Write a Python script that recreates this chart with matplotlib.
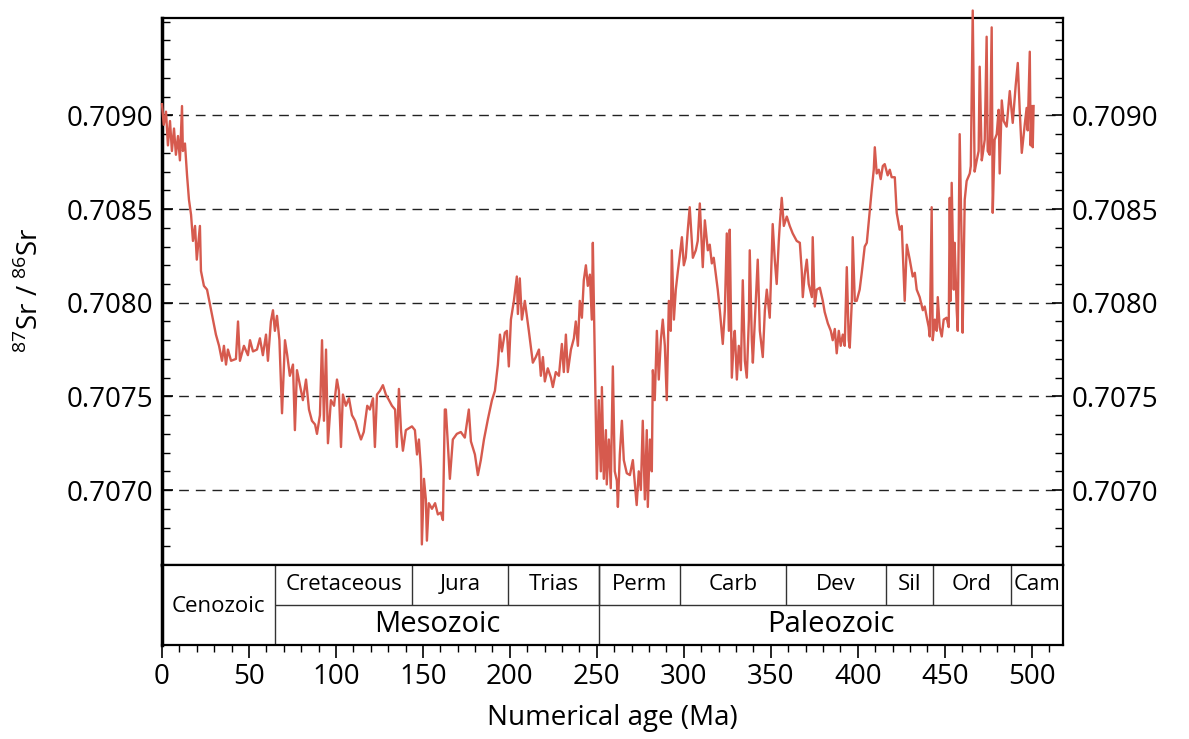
import matplotlib.pyplot as plt
from matplotlib.ticker import MultipleLocator, FixedLocator, FormatStrFormatter

plt.rcParams['font.family'] = ['Open Sans', 'DejaVu Sans']
plt.rcParams['mathtext.fontset'] = 'custom'
plt.rcParams['mathtext.rm'] = 'Open Sans'

# Sr isotope curve (age in Ma, 87Sr/86Sr)
ages = [0, 1, 2.3, 3.4, 4.6, 5.7, 6.9, 8, 9.2, 10.3, 11.5, 12, 13.2, 14.4, 15.5,
        16.7, 17.8, 19, 20, 21.8, 22.4, 24.1, 25.9, 27.6, 29.3, 31, 32.8, 34.5,
        35.6, 36.8, 37.9, 39.7, 42.5, 43.7, 44.8, 47.1, 49.4, 50.6, 52.3, 54.6,
        56.3, 58, 59.8, 60.9, 62.6, 63.8, 64.9, 66.1,
        67.5, 69, 70.7, 72, 73.5, 75.3, 76.4, 77.6, 79.3, 81, 82.8, 84.5, 86.2,
        88, 89.1, 90.8, 92, 93.1, 94.3, 95.4, 97.1, 98.9, 100.6, 101.7, 102.9,
        104, 105.7, 107.5, 109.2, 111, 112.6, 114.4, 116, 118, 119.5, 121.3,
        122.4, 123.6, 125.3, 127, 128.7, 130.5, 132.2, 134, 135, 136.2, 137.4,
        138.5, 140.2, 142, 143.7, 145.4, 146.6, 147.7, 148.9, 149.4, 150.6,
        151.7, 152.3, 153.4, 155.2, 157, 158.6, 160.3, 161.5, 162.6,
        163.2, 165.5, 167.2, 169.5, 171.8, 174.1, 176.4, 177.6, 179.9, 181.6,
        183.3, 185.1, 187.4, 189.7, 191.4, 193.1, 194.3, 195.4, 197.1, 198.3,
        199.4, 200.6, 202.3, 204, 204.6, 205.7, 206.9, 208.6, 210.9, 213.2,
        214.9, 216.7, 217.8, 219, 220.1, 221.8, 223.6, 224.7, 226.4, 228.2,
        229.9, 231, 232.2, 233.3, 235.1, 236.8, 237.9, 239.1, 240.2, 241.4,
        242.5, 243.7, 244.8, 246, 247.1, 247.7, 248.9, 250, 251.1, 252.3,
        252.9, 254, 255.2, 255.7, 256.9, 258, 259.2, 260.3, 261.5, 262.1,
        263.2, 264.4, 265.5, 267.2, 269, 270.7, 271.8, 272.9, 274.1, 275.3,
        276.4, 277.6, 278.7, 279.3, 280.5, 281.6, 282.2, 283.3, 284.5, 285.6,
        286.8, 287.9, 289.1, 290.2, 291.4, 292.5, 293.1, 294.3, 295.4, 296.6,
        297.7, 298.9, 300, 301.1,
        302.3, 303.4, 305.2, 306.9, 308, 309.2, 310.3, 310.9, 312.1, 313.8,
        314.9, 316.1, 317.2, 318.4, 319.5, 320.7, 322.4, 323.6, 324.7, 325.9,
        326.4, 327.6, 328.7, 329.3, 330.5, 331.6, 332.8, 333.9, 335.1, 336.2,
        337.4, 337.9, 339.1, 339.7, 341.4, 342.5, 343.7, 345.4, 346.6, 347.7,
        349.4, 351.1, 352.3, 353.4, 354.6, 355.2, 356.3, 357.5, 359.2, 360.9,
        362.6, 364.9, 366.7, 367.8, 368.4, 369.5, 370.7, 371.8, 373.6, 374.1,
        375.3, 376.4, 378.2, 379.9, 381, 382.8, 384.5, 385.6, 386.8, 387.9,
        389.1, 390.2, 391.4, 392.5, 393.7, 394.8, 395.4, 396.6, 397.1, 398.3,
        399.4, 401.1, 402.3, 404, 405.2, 406.9, 408, 409.2, 409.8, 410.9,
        412.1, 413.2, 414.4, 415.5, 417.2, 418.4, 419.5, 421.3, 422.4, 424.1,
        425.3, 427, 428.2, 429.9, 431.6, 432.8, 433.9, 435.6, 437.4, 438.5,
        439.7, 440.8, 441.4, 442.5, 443.1, 444.3, 445.4, 446, 447.1, 448.3,
        449.4, 451.1, 452.3, 452.9, 453.4, 454, 455.2, 455.7, 456.9, 457.5,
        458.6, 459.8, 460.3, 461.5, 462.6, 464.4, 465, 466.1, 467.2, 468.4,
        469.5, 470.1, 471.3, 471.8, 473, 474.1, 474.7, 475.9, 477, 477.6,
        478.7, 479.9, 481, 481.6, 482.8, 483.9, 485.6, 487.4, 489.1, 490.8,
        492, 493.1, 494.3, 496, 497.1, 497.7, 498.9, 499.4, 500, 500.6, 501.1]

sr = [0.70906, 0.70895, 0.70902, 0.70884, 0.70897, 0.70881, 0.70893, 0.70879,
      0.70889, 0.70876, 0.70905, 0.70881, 0.70885, 0.70868, 0.70855, 0.70847,
      0.70833, 0.70841, 0.70823, 0.70841, 0.70817, 0.70809, 0.70807, 0.70799,
      0.70791, 0.70783, 0.70777, 0.70769, 0.70777, 0.70767, 0.70775, 0.70769,
      0.70770, 0.70790, 0.70769, 0.70777, 0.70772, 0.70780, 0.70774, 0.70775,
      0.70781, 0.70772, 0.70783, 0.70769, 0.70790, 0.70796, 0.70785, 0.70793,
      0.70780, 0.70741, 0.70780, 0.70772, 0.70761, 0.70767, 0.70732, 0.70764,
      0.70756, 0.70748, 0.70759, 0.70743, 0.70737, 0.70735, 0.70730, 0.70740,
      0.70780, 0.70737, 0.70775, 0.70725, 0.70748, 0.70745, 0.70759, 0.70753,
      0.70723, 0.70751, 0.70745, 0.70749, 0.70740, 0.70737, 0.70732, 0.70727,
      0.70731, 0.70745, 0.70743, 0.70749, 0.70723, 0.70751, 0.70753, 0.70756,
      0.70751, 0.70748, 0.70745, 0.70743, 0.70723, 0.70754, 0.70732, 0.70721,
      0.70732, 0.70733, 0.70734, 0.70732, 0.70719, 0.70727, 0.70711, 0.70671,
      0.70706, 0.70695, 0.70673, 0.70693, 0.70690, 0.70693, 0.70687, 0.70688,
      0.70684, 0.70743,
      0.70743, 0.70706, 0.70727, 0.70730, 0.70731, 0.70728, 0.70743, 0.70726,
      0.70719, 0.70708, 0.70716, 0.70727, 0.70738, 0.70748, 0.70753, 0.70767,
      0.70783, 0.70774, 0.70784, 0.70785, 0.70766, 0.70791, 0.70801, 0.70814,
      0.70794, 0.70813, 0.70791, 0.70801, 0.70785, 0.70768, 0.70771, 0.70775,
      0.70761, 0.70771, 0.70758, 0.70765, 0.70760, 0.70755, 0.70763, 0.70761,
      0.70778, 0.70763, 0.70783, 0.70763, 0.70775, 0.70781, 0.70790, 0.70777,
      0.70801, 0.70792, 0.70812, 0.70820, 0.70809, 0.70815, 0.70791, 0.70832,
      0.70767, 0.70706, 0.70748, 0.70710, 0.70755, 0.70706, 0.70732, 0.70703,
      0.70727, 0.70701, 0.70766, 0.70710, 0.70705, 0.70691, 0.70719, 0.70737,
      0.70716, 0.70709, 0.70708, 0.70716, 0.70704, 0.70692, 0.70710, 0.70700,
      0.70737, 0.70695, 0.70732, 0.70691, 0.70727, 0.70710, 0.70764, 0.70748,
      0.70785, 0.70759, 0.70780, 0.70791, 0.70777, 0.70748, 0.70801, 0.70785,
      0.70828, 0.70791, 0.70807, 0.70817, 0.70825, 0.70835, 0.70820, 0.70824,
      0.70839, 0.70851, 0.70824, 0.70828, 0.70833, 0.70853, 0.70831, 0.70819,
      0.70844, 0.70828, 0.70831, 0.70821, 0.70824, 0.70815, 0.70807, 0.70796,
      0.70778, 0.70796, 0.70837, 0.70785, 0.70839, 0.70760, 0.70780, 0.70785,
      0.70759, 0.70777, 0.70764, 0.70812, 0.70769, 0.70760, 0.70791, 0.70828,
      0.70780, 0.70768, 0.70801, 0.70823, 0.70785, 0.70771, 0.70796, 0.70807,
      0.70792, 0.70842, 0.70823, 0.70810, 0.70833, 0.70842, 0.70856, 0.70841,
      0.70846, 0.70841, 0.70837, 0.70833, 0.70832, 0.70817, 0.70803, 0.70815,
      0.70823, 0.70810, 0.70803, 0.70835, 0.70798, 0.70807, 0.70808, 0.70801,
      0.70795, 0.70789, 0.70785, 0.70780, 0.70786, 0.70773, 0.70785, 0.70777,
      0.70783, 0.70777, 0.70819, 0.70780, 0.70776, 0.70801, 0.70835, 0.70801,
      0.70801, 0.70807, 0.70816, 0.70830, 0.70832, 0.70849, 0.70860, 0.70871,
      0.70883, 0.70869, 0.70871, 0.70866, 0.70873, 0.70874, 0.70868, 0.70871,
      0.70867, 0.70867, 0.70848, 0.70839, 0.70841, 0.70801, 0.70831, 0.70823,
      0.70814, 0.70816, 0.70807, 0.70803, 0.70796, 0.70798, 0.70792, 0.70787,
      0.70782, 0.70851, 0.70780, 0.70791, 0.70785, 0.70803, 0.70787, 0.70782,
      0.70791, 0.70792, 0.70787, 0.70856, 0.70801, 0.70864, 0.70807, 0.70832,
      0.70796, 0.70785, 0.70890, 0.70827, 0.70784, 0.70855, 0.70865, 0.70869,
      0.70873, 0.70956, 0.70870, 0.70876, 0.70881, 0.70926, 0.70876, 0.70879,
      0.70887, 0.70942, 0.70881, 0.70879, 0.70947, 0.70848, 0.70887, 0.70890,
      0.70903, 0.70869, 0.70908, 0.70897, 0.70894, 0.70913, 0.70896, 0.70916,
      0.70928, 0.70903, 0.70880, 0.70895, 0.70904, 0.70892, 0.70934, 0.70884,
      0.70905, 0.70883, 0.70905]

y_ticks = [0.7070, 0.7075, 0.7080, 0.7085, 0.7090]

# geologic time scale (boundaries in Ma)
period_names = ['Cretaceous', 'Jura', 'Trias', 'Perm', 'Carb', 'Dev', 'Sil', 'Ord', 'Cam']
period_bounds = [65, 144, 199, 251, 298, 359, 416, 443, 488, 518]
era_names = ['Cenozoic', 'Mesozoic', 'Paleozoic']
era_bounds = [0, 65, 251, 518]

W, H = 1189, 739
fig = plt.figure(figsize=(W / 100, H / 100), dpi=100)
left, right = 162 / W, 1063 / W
ax = fig.add_axes([left, 1 - 565 / H, right - left, (565 - 18) / H])
band = fig.add_axes([left, 1 - 645 / H, right - left, (645 - 565) / H], sharex=ax)

ax.plot(ages, sr, color='#d65a4e', lw=1.7, clip_on=False, zorder=3)
ax.set_xlim(0, 518)
ax.set_ylim(0.70660, 0.70952)

ax.yaxis.set_major_locator(FixedLocator(y_ticks))
ax.yaxis.set_minor_locator(MultipleLocator(0.0001))
ax.yaxis.set_major_formatter(FormatStrFormatter('%.4f'))
ax.tick_params(axis='y', which='both', left=True, right=True,
               labelleft=True, labelright=True, direction='in',
               labelsize=20, pad=6)
ax.tick_params(axis='y', which='major', length=8, width=1.2)
ax.tick_params(axis='y', which='minor', length=6, width=1)
ax.tick_params(axis='x', which='both', bottom=False, labelbottom=False)
ax.grid(axis='y', which='major', color='#222222', ls=(0, (7, 5)), lw=1)
ax.spines['left'].set_linewidth(2.5)
for s in ['top', 'right', 'bottom']:
    ax.spines[s].set_linewidth(1.6)

# time scale band
band.set_ylim(0, 2)
band.set_yticks([])
band.xaxis.set_major_locator(MultipleLocator(50))
band.xaxis.set_minor_locator(MultipleLocator(10))
band.tick_params(axis='x', which='both', direction='out', labelsize=20, pad=4)
band.tick_params(axis='x', which='major', length=9, width=1.2)
band.tick_params(axis='x', which='minor', length=5, width=1)
band.spines['left'].set_linewidth(2.5)
for s in ['top', 'right', 'bottom']:
    band.spines[s].set_linewidth(1.6)

band.hlines(1, era_bounds[1], era_bounds[-1], color='#333333', lw=1)
band.vlines(era_bounds[1:-1], 0, 2, color='#333333', lw=1)
band.vlines(period_bounds[1:-1], 1, 2, color='#333333', lw=1)

for i, name in enumerate(period_names):
    band.text((period_bounds[i] + period_bounds[i + 1]) / 2, 1.5, name,
              ha='center', va='center', fontsize=16)
band.text((era_bounds[0] + era_bounds[1]) / 2, 0.95, era_names[0],
          ha='center', va='center', fontsize=16)
for i in (1, 2):
    band.text((era_bounds[i] + era_bounds[i + 1]) / 2, 0.5, era_names[i],
              ha='center', va='center', fontsize=21)

fig.text(612 / W, 1 - 718 / H, 'Numerical age (Ma)', ha='center', va='center', fontsize=20)
fig.text(30 / W, 1 - 290 / H, r'$^{87}$Sr / $^{86}$Sr', ha='center', va='center',
         rotation=90, fontsize=20)

fig.savefig('out.png', dpi=100)
